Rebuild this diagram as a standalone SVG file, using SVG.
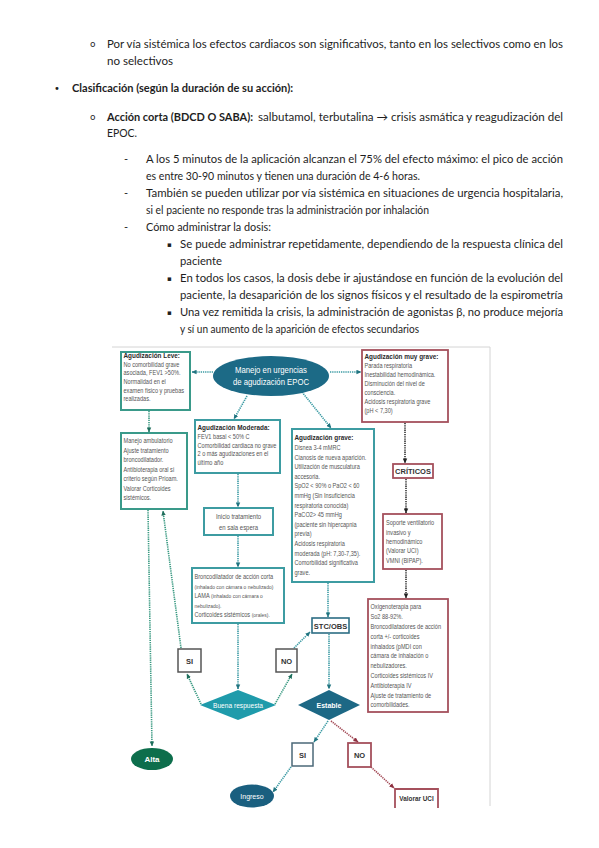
<svg xmlns="http://www.w3.org/2000/svg" width="599" height="848" viewBox="0 0 599 848">
<style>
.p{font-family:Lato,"Liberation Sans",sans-serif;font-size:11px;fill:#1e1e1e}
.b{font-weight:bold}
.bul{font-family:"DejaVu Sans",sans-serif;fill:#1e1e1e}
.t{font-family:"Liberation Sans",Arial,sans-serif;font-size:7px;fill:#555}
.s{font-size:6.2px}
.h{font-family:"Liberation Sans",Arial,sans-serif;font-size:8px;font-weight:bold;fill:#2a2a2a}
.lb{font-family:"Liberation Sans",Arial,sans-serif;font-size:7.5px;font-weight:bold;fill:#333;text-anchor:middle}
.w{font-family:"Liberation Sans",Arial,sans-serif;fill:#fff;text-anchor:middle}
.bt{fill:#fff;stroke:#3d9ca2;stroke-width:2}
.bg{fill:#fff;stroke:#3a9a8a;stroke-width:2}
.br{fill:#fff;stroke:#a5505c;stroke-width:1.8}
.bk{fill:#fff;stroke:#555;stroke-width:1.5}
.c{fill:none;stroke-width:1.6;stroke-dasharray:1.3 0.9}
.ct{stroke:#3a9aa3}
.cg{stroke:#3a9a82}
.cd{stroke:#333}
.cr{stroke:#a34a56}
</style>
<defs>
<marker id="at" viewBox="0 0 6 6" refX="5.5" refY="3" markerWidth="5" markerHeight="5" orient="auto" markerUnits="userSpaceOnUse"><path d="M0,0.3 L6,3 L0,5.7z" fill="#217480"/></marker>
<marker id="ag" viewBox="0 0 6 6" refX="5.5" refY="3" markerWidth="5" markerHeight="5" orient="auto" markerUnits="userSpaceOnUse"><path d="M0,0.3 L6,3 L0,5.7z" fill="#1f6e5c"/></marker>
<marker id="ad" viewBox="0 0 6 6" refX="5.5" refY="3" markerWidth="5" markerHeight="5" orient="auto" markerUnits="userSpaceOnUse"><path d="M0,0.3 L6,3 L0,5.7z" fill="#222"/></marker>
<marker id="ar" viewBox="0 0 6 6" refX="5.5" refY="3" markerWidth="5" markerHeight="5" orient="auto" markerUnits="userSpaceOnUse"><path d="M0,0.3 L6,3 L0,5.7z" fill="#8e3040"/></marker>
</defs>
<rect width="599" height="848" fill="#fff"/>

<!-- document text -->
<g id="texto">
<text class="bul" x="90" y="47" font-size="9">o</text>
<text class="p" x="107" y="47.5" textLength="456" lengthAdjust="spacingAndGlyphs">Por vía sistémica los efectos cardiacos son significativos, tanto en los selectivos como en los</text>
<text class="p" x="107" y="64.5" textLength="66" lengthAdjust="spacingAndGlyphs">no selectivos</text>
<text class="bul" x="54" y="92" font-size="10">•</text>
<text class="p b" x="72" y="91.5" textLength="221" lengthAdjust="spacingAndGlyphs">Clasificación (según la duración de su acción):</text>
<text class="bul" x="90" y="120" font-size="9">o</text>
<text class="p b" x="107" y="120.5" textLength="146" lengthAdjust="spacingAndGlyphs">Acción corta (BDCD O SABA):</text>
<text class="p" x="258" y="120.5" textLength="305" lengthAdjust="spacingAndGlyphs">salbutamol, terbutalina → crisis asmática y reagudización del</text>
<text class="p" x="107" y="136.5" textLength="30" lengthAdjust="spacingAndGlyphs">EPOC.</text>
<text class="p" x="124" y="162.5">-</text>
<text class="p" x="146" y="162.5" textLength="417" lengthAdjust="spacingAndGlyphs">A los 5 minutos de la aplicación alcanzan el 75% del efecto máximo: el pico de acción</text>
<text class="p" x="146" y="179.5" textLength="274" lengthAdjust="spacingAndGlyphs">es entre 30-90 minutos y tienen una duración de 4-6 horas.</text>
<text class="p" x="124" y="196.5">-</text>
<text class="p" x="146" y="196.5" textLength="417" lengthAdjust="spacingAndGlyphs">También se pueden utilizar por vía sistémica en situaciones de urgencia hospitalaria,</text>
<text class="p" x="146" y="213.5" textLength="283" lengthAdjust="spacingAndGlyphs">si el paciente no responde tras la administración por inhalación</text>
<text class="p" x="124" y="230.5">-</text>
<text class="p" x="146" y="230.5" textLength="125" lengthAdjust="spacingAndGlyphs">Cómo administrar la dosis:</text>
<text class="bul" x="167" y="247" font-size="7">▪</text>
<text class="p" x="180" y="247.5" textLength="383" lengthAdjust="spacingAndGlyphs">Se puede administrar repetidamente, dependiendo de la respuesta clínica del</text>
<text class="p" x="180" y="264.5" textLength="42" lengthAdjust="spacingAndGlyphs">paciente</text>
<text class="bul" x="167" y="281" font-size="7">▪</text>
<text class="p" x="180" y="281.5" textLength="383" lengthAdjust="spacingAndGlyphs">En todos los casos, la dosis debe ir ajustándose en función de la evolución del</text>
<text class="p" x="180" y="298.5" textLength="383" lengthAdjust="spacingAndGlyphs">paciente, la desaparición de los signos físicos y el resultado de la espirometría</text>
<text class="bul" x="167" y="315" font-size="7">▪</text>
<text class="p" x="180" y="315.5" textLength="383" lengthAdjust="spacingAndGlyphs">Una vez remitida la crisis, la administración de agonistas β, no produce mejoría</text>
<text class="p" x="180" y="332.5" textLength="239" lengthAdjust="spacingAndGlyphs">y sí un aumento de la aparición de efectos secundarios</text>
</g>

<!-- frame of the figure -->
<path d="M112,347 H490 V806" fill="none" stroke="#d4d4d4" stroke-width="1"/>

<g id="connectors">
<line class="c ct" x1="213" y1="372" x2="192" y2="372" marker-end="url(#at)"/>
<line class="c ct" x1="330" y1="372" x2="361" y2="372" marker-end="url(#at)"/>
<line class="c ct" x1="247" y1="396" x2="234" y2="419" marker-end="url(#at)"/>
<line class="c ct" x1="302" y1="392" x2="331" y2="428" marker-end="url(#at)"/>
<line class="c cg" x1="149" y1="411" x2="149" y2="432" marker-end="url(#ag)"/>
<line class="c ct" x1="238" y1="474" x2="238" y2="507" marker-end="url(#at)"/>
<line class="c ct" x1="238" y1="536" x2="238" y2="567" marker-end="url(#at)"/>
<line class="c ct" x1="238" y1="624" x2="238" y2="689" marker-end="url(#at)"/>
<line class="c cg" x1="201" y1="704" x2="187" y2="674" marker-end="url(#ag)"/>
<line class="c cg" x1="181" y1="648" x2="163" y2="511" marker-end="url(#ag)"/>
<line class="c cg" x1="148" y1="510" x2="152" y2="746" marker-end="url(#ag)"/>
<line class="c cg" x1="275" y1="704" x2="292" y2="674" marker-end="url(#ag)"/>
<line class="c ct" x1="294" y1="648" x2="310" y2="632" marker-end="url(#at)"/>
<line class="c ct" x1="328" y1="583" x2="328" y2="617" marker-end="url(#at)"/>
<line class="c ct" x1="329" y1="634" x2="329" y2="689" marker-end="url(#at)"/>
<line class="c cd" x1="405" y1="423" x2="405" y2="463" marker-end="url(#ad)"/>
<line class="c cd" x1="406" y1="479" x2="406" y2="513" marker-end="url(#ad)"/>
<line class="c cd" x1="406" y1="570" x2="406" y2="598" marker-end="url(#ad)"/>
<line class="c ct" x1="328" y1="721" x2="314" y2="742" marker-end="url(#at)"/>
<line class="c ct" x1="291" y1="767" x2="273" y2="792" marker-end="url(#at)"/>
<line class="c cr" x1="331" y1="721" x2="358" y2="742" marker-end="url(#ar)"/>
<line class="c cr" x1="371" y1="767" x2="394" y2="788" marker-end="url(#ar)"/>
</g>

<g id="n-manejo">
<ellipse cx="271" cy="376" rx="58" ry="20" fill="#1c6a86"/>
<text class="w" x="271" y="373" font-size="9" textLength="72" lengthAdjust="spacingAndGlyphs">Manejo en urgencias</text>
<text class="w" x="271" y="385" font-size="9" textLength="76" lengthAdjust="spacingAndGlyphs">de agudización EPOC</text>
</g>

<g id="n-leve">
<rect class="bg" x="121" y="352" width="69" height="58"/>
<g transform="translate(123.5,0) scale(0.8,1)">
<text class="h" x="0" y="358">Agudización Leve:</text>
<text class="t" x="0" y="366.8">No comorbilidad grave</text>
<text class="t" x="0" y="375.4">asociada, FEV1 &gt;50%.</text>
<text class="t" x="0" y="384">Normalidad en el</text>
<text class="t" x="0" y="392.6">examen físico y pruebas</text>
<text class="t" x="0" y="401.2">realizadas.</text>
</g>
</g>

<g id="n-ambulatorio">
<rect class="bg" x="121" y="433" width="66" height="76"/>
<g transform="translate(123.5,0) scale(0.8,1)">
<text class="t" x="0" y="443.5">Manejo ambulatorio</text>
<text class="t" x="0" y="453">Ajuste tratamiento</text>
<text class="t" x="0" y="462.5">broncodilatador.</text>
<text class="t" x="0" y="472">Antibioterapia oral si</text>
<text class="t" x="0" y="481.5">criterio según Prioam.</text>
<text class="t" x="0" y="491">Valorar Corticoides</text>
<text class="t" x="0" y="500.5">sistémicos.</text>
</g>
</g>

<g id="n-moderada">
<rect class="bt" x="195" y="420" width="85" height="53"/>
<g transform="translate(197.5,0) scale(0.8,1)">
<text class="h" x="0" y="430.5">Agudización Moderada:</text>
<text class="t" x="0" y="439.5">FEV1 basal &lt; 50% C</text>
<text class="t" x="0" y="448">Comorbilidad cardiaca no grave</text>
<text class="t" x="0" y="456.5">2 o más agudizaciones en el</text>
<text class="t" x="0" y="465">último año</text>
</g>
</g>

<g id="n-inicio">
<rect class="bt" x="204" y="508" width="69" height="27"/>
<g transform="translate(238.5,0) scale(0.85,1)">
<text class="t" x="0" y="519.5" font-size="7.8" text-anchor="middle">Inicio tratamiento</text>
<text class="t" x="0" y="530" font-size="7.8" text-anchor="middle">en sala espera</text>
</g>
</g>

<g id="n-bronco">
<rect class="bt" x="192" y="568" width="92" height="55"/>
<g transform="translate(194.5,0) scale(0.8,1)">
<text class="t" x="0" y="579.5">Broncodilatador de acción corta</text>
<text class="t s" x="0" y="589">(inhalado con cámara o nebulizado)</text>
<text class="t" x="0" y="598.5">LAMA <tspan class="s">(inhalado con cámara o</tspan></text>
<text class="t s" x="0" y="608">nebulizado).</text>
<text class="t" x="0" y="617.5">Corticoides sistémicos <tspan class="s">(orales).</tspan></text>
</g>
</g>

<g id="n-buena">
<path d="M238,690 L276,705 L238,720 L200,705z" fill="#1f9bab"/>
<text class="w" x="238" y="707.5" font-size="6.8" textLength="50" lengthAdjust="spacingAndGlyphs">Buena respuesta</text>
</g>

<g id="n-si1">
<rect class="bk" x="178" y="649" width="23" height="23"/>
<text class="lb" x="189.5" y="663.5">SI</text>
</g>
<g id="n-no1">
<rect class="bk" x="276" y="649" width="21" height="23"/>
<text class="lb" x="286.5" y="663.5">NO</text>
</g>

<g id="n-alta">
<ellipse cx="152" cy="759" rx="21" ry="11" fill="#0d6e4c"/>
<text class="w" x="152" y="762" font-size="8" font-weight="bold">Alta</text>
</g>

<g id="n-grave">
<rect class="bt" x="292" y="429" width="82" height="153"/>
<g transform="translate(294.5,0) scale(0.8,1)">
<text class="h" x="0" y="440.5">Agudización grave:</text>
<text class="t" x="0" y="450.1">Disnea 3-4 mMRC</text>
<text class="t" x="0" y="459.7">Cianosis de nueva aparición.</text>
<text class="t" x="0" y="469.3">Utilización de musculatura</text>
<text class="t" x="0" y="478.9">accesoria.</text>
<text class="t" x="0" y="488.5">SpO2 &lt; 90% o PaO2 &lt; 60</text>
<text class="t" x="0" y="498.1">mmHg (Sin Insuficiencia</text>
<text class="t" x="0" y="507.7">respiratoria conocida)</text>
<text class="t" x="0" y="517.3">PaCO2&gt; 45 mmHg</text>
<text class="t" x="0" y="526.9">(paciente sin hipercapnia</text>
<text class="t" x="0" y="536.5">previa)</text>
<text class="t" x="0" y="546.1">Acidosis respiratoria</text>
<text class="t" x="0" y="555.7">moderada (pH: 7,30-7,35).</text>
<text class="t" x="0" y="565.3">Comorbilidad significativa</text>
<text class="t" x="0" y="574.9">grave.</text>
</g>
</g>

<g id="n-stc">
<rect x="312" y="618" width="37" height="15" fill="#fff" stroke="#2c6d84" stroke-width="1.6"/>
<text class="lb" x="330.5" y="628.5" font-size="7.3">STC/OBS</text>
</g>

<g id="n-estable">
<path d="M329,690 L360,705 L329,720 L298,705z" fill="#1d6885"/>
<text class="w" x="329" y="707.5" font-size="7" font-weight="bold">Estable</text>
</g>

<g id="n-si2">
<rect x="292" y="743" width="21" height="23" fill="#fff" stroke="#4b6878" stroke-width="1.5"/>
<text class="lb" x="302.5" y="757.5">SI</text>
</g>
<g id="n-no2">
<rect class="br" x="348" y="743" width="23" height="24"/>
<text class="lb" x="359.5" y="758">NO</text>
</g>

<g id="n-ingreso">
<ellipse cx="252" cy="796" rx="22" ry="11.5" fill="#1a5f7f"/>
<text class="w" x="252" y="798.5" font-size="7">Ingreso</text>
</g>

<g id="n-uci">
<path d="M395,808 V789 H438 V808" fill="none" stroke="#a5505c" stroke-width="1.8"/>
<g transform="translate(416.5,0) scale(0.85,1)">
<text class="lb" x="0" y="801" font-size="7.5">Valorar UCI</text>
</g>
</g>

<g id="n-muygrave">
<rect class="br" x="362" y="350" width="86" height="72"/>
<g transform="translate(364.5,0) scale(0.8,1)">
<text class="h" x="0" y="359.5">Agudización muy grave:</text>
<text class="t" x="0" y="368.5">Parada respiratoria</text>
<text class="t" x="0" y="377.5">Inestabilidad hemodinámica.</text>
<text class="t" x="0" y="386.5">Disminución del nivel de</text>
<text class="t" x="0" y="395.5">consciencia.</text>
<text class="t" x="0" y="404.5">Acidosis respiratoria grave</text>
<text class="t" x="0" y="413.5">(pH &lt; 7,30)</text>
</g>
</g>

<g id="n-criticos">
<rect class="br" x="393" y="464" width="40" height="14"/>
<text class="lb" x="413" y="474">CRÍTICOS</text>
</g>

<g id="n-soporte">
<rect class="br" x="383" y="514" width="59" height="55"/>
<g transform="translate(386,0) scale(0.8,1)">
<text class="t" x="0" y="525.5">Soporte ventilatorio</text>
<text class="t" x="0" y="534.8">invasivo y</text>
<text class="t" x="0" y="544.1">hemodinámico</text>
<text class="t" x="0" y="553.4">(Valorar UCI)</text>
<text class="t" x="0" y="562.7">VMNI (BIPAP).</text>
</g>
</g>

<g id="n-oxigeno">
<rect class="br" x="368" y="599" width="80" height="113"/>
<g transform="translate(370.5,0) scale(0.8,1)">
<text class="t" x="0" y="609.5">Oxigenoterapia para</text>
<text class="t" x="0" y="619.3">So2 88-92%.</text>
<text class="t" x="0" y="629.1">Broncodilatadores de acción</text>
<text class="t" x="0" y="638.9">corta +/- corticoides</text>
<text class="t" x="0" y="648.7">inhalados (pMDI con</text>
<text class="t" x="0" y="658.5">cámara de inhalación o</text>
<text class="t" x="0" y="668.3">nebulizadores.</text>
<text class="t" x="0" y="678.1">Corticoides sistémicos IV</text>
<text class="t" x="0" y="687.9">Antibioterapia IV</text>
<text class="t" x="0" y="697.7">Ajuste de tratamiento de</text>
<text class="t" x="0" y="707.5">comorbilidades.</text>
</g>
</g>
</svg>
